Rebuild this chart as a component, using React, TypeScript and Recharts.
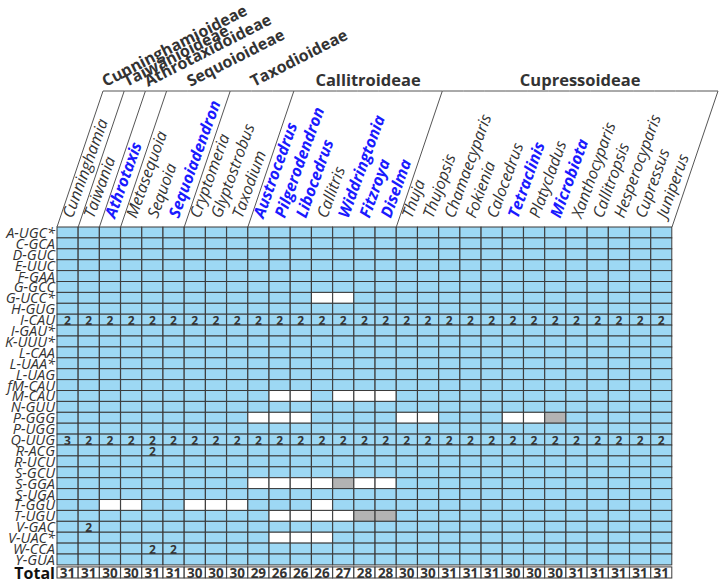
import React from 'react';
import { BarChart, Bar, XAxis, YAxis } from 'recharts';

// genera, left to right
const genera = [
  'Cunninghamia', 'Taiwania', 'Athrotaxis', 'Metasequoia', 'Sequoia', 'Sequoiadendron',
  'Cryptomeria', 'Glyptostrobus', 'Taxodium', 'Austrocedrus', 'Pilgerodendron', 'Libocedrus',
  'Callitris', 'Widdringtonia', 'Fitzroya', 'Diselma', 'Thuja', 'Thujopsis', 'Chamaecyparis',
  'Fokienia', 'Calocedrus', 'Tetraclinis', 'Platycladus', 'Microbiota', 'Xanthocyparis',
  'Callitropsis', 'Hesperocyparis', 'Cupressus', 'Juniperus',
];

// genera printed in bold blue
const highlighted = [
  'Athrotaxis', 'Sequoiadendron', 'Austrocedrus', 'Pilgerodendron', 'Libocedrus',
  'Widdringtonia', 'Fitzroya', 'Diselma', 'Tetraclinis', 'Microbiota',
];

const subfamilyNames = [
  'Cunninghamioideae', 'Taiwanioideae', 'Athrotaxidoideae', 'Sequoioideae',
  'Taxodioideae', 'Callitroideae', 'Cupressoideae',
];
const subfamilySizes = [1, 1, 1, 3, 3, 7, 13];

const trnas = [
  'A-UGC*', 'C-GCA', 'D-GUC', 'E-UUC', 'F-GAA', 'G-GCC', 'G-UCC*', 'H-GUG', 'I-CAU', 'I-GAU*',
  'K-UUU*', 'L-CAA', 'L-UAA*', 'L-UAG', 'fM-CAU', 'M-CAU', 'N-GUU', 'P-GGG', 'P-UGG', 'Q-UUG',
  'R-ACG', 'R-UCU', 'S-GCU', 'S-GGA', 'S-UGA', 'T-GGU', 'T-UGU', 'V-GAC', 'V-UAC*', 'W-CCA', 'Y-GUA',
];

const totals = [31, 31, 30, 30, 31, 31, 30, 30, 30, 29, 26, 26, 26, 27, 28, 28, 30, 30, 31, 31, 31, 30, 30, 30, 31, 31, 31, 31, 31];

// copy numbers of the two rows that are filled with numbers
const iCauCopies = [2, 2, 2, 2, 2, 2, 2, 2, 2, 2, 2, 2, 2, 2, 2, 2, 2, 2, 2, 2, 2, 2, 2, 2, 2, 2, 2, 2, 2];
const qUugCopies = [3, 2, 2, 2, 2, 2, 2, 2, 2, 2, 2, 2, 2, 2, 2, 2, 2, 2, 2, 2, 2, 2, 2, 2, 2, 2, 2, 2, 2];

// other duplicated genes: [tRNA, genus, copies]
const extraCopies: [string, string, number][] = [
  ['R-ACG', 'Sequoia', 2],
  ['V-GAC', 'Taiwania', 2],
  ['W-CCA', 'Sequoia', 2],
  ['W-CCA', 'Sequoiadendron', 2],
];

// lost genes (white cells)
const absentCells: [string, string][] = [
  ['G-UCC*', 'Callitris'], ['G-UCC*', 'Widdringtonia'],
  ['M-CAU', 'Pilgerodendron'], ['M-CAU', 'Libocedrus'], ['M-CAU', 'Widdringtonia'],
  ['M-CAU', 'Fitzroya'], ['M-CAU', 'Diselma'],
  ['P-GGG', 'Austrocedrus'], ['P-GGG', 'Pilgerodendron'], ['P-GGG', 'Libocedrus'],
  ['P-GGG', 'Thuja'], ['P-GGG', 'Thujopsis'], ['P-GGG', 'Tetraclinis'], ['P-GGG', 'Platycladus'],
  ['S-GGA', 'Austrocedrus'], ['S-GGA', 'Pilgerodendron'], ['S-GGA', 'Libocedrus'],
  ['S-GGA', 'Callitris'], ['S-GGA', 'Fitzroya'], ['S-GGA', 'Diselma'],
  ['T-GGU', 'Athrotaxis'], ['T-GGU', 'Metasequoia'], ['T-GGU', 'Cryptomeria'],
  ['T-GGU', 'Glyptostrobus'], ['T-GGU', 'Taxodium'], ['T-GGU', 'Callitris'],
  ['T-UGU', 'Pilgerodendron'], ['T-UGU', 'Libocedrus'], ['T-UGU', 'Callitris'], ['T-UGU', 'Widdringtonia'],
  ['V-UAC*', 'Pilgerodendron'], ['V-UAC*', 'Libocedrus'], ['V-UAC*', 'Callitris'],
];

// pseudogenes (gray cells)
const pseudoCells: [string, string][] = [
  ['P-GGG', 'Microbiota'],
  ['S-GGA', 'Widdringtonia'],
  ['T-UGU', 'Fitzroya'],
  ['T-UGU', 'Diselma'],
];

const CHART_W = 720;
const CHART_H = 583;
const X_AXIS_H = 20;
const MARGIN = { top: 227 - X_AXIS_H, right: 48, bottom: 5, left: 0 };
const Y_AXIS_W = 57;
const BAND = (CHART_W - MARGIN.right - Y_AXIS_W) / genera.length;
const HEADER_H = 136;
const SLANT = 46;
const TOTAL_SPAN = 1.2;

const FONT = '"Open Sans", "Noto Sans", sans-serif';
const INK = '#333333';
const BLUE_FILL = '#9dd8f4';
const GRAY_FILL = '#b3b3b3';
const GRID = '#3a3a3a';
const LABEL_BLUE = '#1a1aff';

const key = (t: string, g: string) => `${t}|${g}`;
const absentSet = new Set(absentCells.map(([t, g]) => key(t, g)));
const pseudoSet = new Set(pseudoCells.map(([t, g]) => key(t, g)));
const copyMap = new Map<string, number>();
genera.forEach((g, i) => {
  copyMap.set(key('I-CAU', g), iCauCopies[i]);
  copyMap.set(key('Q-UUG', g), qUugCopies[i]);
});
extraCopies.forEach(([t, g, n]) => copyMap.set(key(t, g), n));

const data = genera.map((g, i) => {
  const row: Record<string, number | string> = { genus: g, totalValue: totals[i], total: TOTAL_SPAN };
  trnas.forEach((_, r) => {
    row[`r${r}`] = 1;
  });
  return row;
});

const groupStart: number[] = [];
subfamilySizes.reduce((acc, n) => {
  groupStart.push(acc);
  return acc + n;
}, 0);

const norm = (p: any) => {
  const x = p.width < 0 ? p.x + p.width : p.x;
  const y = p.height < 0 ? p.y + p.height : p.y;
  return { x, y, w: Math.abs(p.width), h: Math.abs(p.height) };
};

const makeCellShape = (trna: string) => (p: any) => {
  const { x, y, w, h } = norm(p);
  const g = p.payload.genus as string;
  const k = key(trna, g);
  const fill = pseudoSet.has(k) ? GRAY_FILL : absentSet.has(k) ? '#ffffff' : BLUE_FILL;
  const n = copyMap.get(k);
  return (
    <g>
      <rect x={x} y={y} width={w} height={h} fill={fill} stroke={GRID} strokeWidth={1} />
      {n ? (
        <text x={x + w / 2} y={y + h / 2 + 1} textAnchor="middle" dominantBaseline="central"
          fontFamily={FONT} fontWeight={700} fontSize={12} fill={INK}>
          {n}
        </text>
      ) : null}
    </g>
  );
};

const TotalShape = (p: any) => {
  const { x, y, w, h } = norm(p);
  return (
    <g>
      <rect x={x} y={y + 2} width={w} height={h - 2} fill="#ffffff" stroke={GRID} strokeWidth={1} />
      <text x={x + w / 2} y={y + h / 2 + 2} textAnchor="middle" dominantBaseline="central"
        fontFamily={FONT} fontWeight={700} fontSize={13.5} fill={INK}>
        {p.payload.totalValue}
      </text>
    </g>
  );
};

const GenusTick = (props: any) => {
  const { x, y, payload } = props;
  const name = payload.value as string;
  const i = genera.indexOf(name);
  const left = x - BAND / 2;
  const topY = y - HEADER_H;
  const hi = highlighted.includes(name);
  const gi = groupStart.indexOf(i);
  const parts: React.ReactNode[] = [];

  parts.push(
    <line key="top" x1={left + SLANT} y1={topY} x2={left + BAND + SLANT} y2={topY} stroke="#555" strokeWidth={1} />
  );
  if (gi >= 0) {
    parts.push(<line key="l" x1={left} y1={y} x2={left + SLANT} y2={topY} stroke="#555" strokeWidth={1} />);
    const size = subfamilySizes[gi];
    const cx = left + (BAND * size) / 2 + SLANT;
    if (size <= 3) {
      const gx = cx - 8;
      const gy = topY - 4;
      parts.push(
        <text key="g" x={gx} y={gy} transform={`rotate(-27 ${gx} ${gy})`}
          fontFamily={FONT} fontWeight={700} fontSize={16} fill={INK}>
          {subfamilyNames[gi]}
        </text>
      );
    } else {
      parts.push(
        <text key="g" x={cx} y={topY - 5} textAnchor="middle"
          fontFamily={FONT} fontWeight={700} fontSize={16.5} fill={INK}>
          {subfamilyNames[gi]}
        </text>
      );
    }
  }
  if (i === genera.length - 1) {
    parts.push(
      <line key="r" x1={left + BAND} y1={y} x2={left + BAND + SLANT} y2={topY} stroke="#555" strokeWidth={1} />
    );
  }
  const tx = x + 5;
  const ty = y - 8;
  parts.push(
    <text key="n" x={tx} y={ty} transform={`rotate(-70 ${tx} ${ty})`} fontFamily={FONT}
      fontStyle="italic" fontWeight={hi ? 700 : 400} fontSize={16} fill={hi ? LABEL_BLUE : INK}>
      {name}
    </text>
  );
  return <g>{parts}</g>;
};

const RowTick = (props: any) => {
  const { x, y, payload } = props;
  const idx = Math.floor(payload.value);
  if (idx >= trnas.length) {
    return (
      <text x={x} y={y + 2} textAnchor="end" dominantBaseline="central" fontFamily={FONT}
        fontWeight={700} fontSize={16} fill="#111">
        Total
      </text>
    );
  }
  return (
    <text x={x} y={y} textAnchor="end" dominantBaseline="central" fontFamily={FONT}
      fontStyle="italic" fontSize={14.5} fill={INK}>
      {trnas[idx]}
    </text>
  );
};

const rowTicks = [...trnas.map((_, r) => r + 0.5), trnas.length + TOTAL_SPAN / 2];

export default function App() {
  return (
    <div style={{ position: 'absolute', left: 0, top: 0, width: CHART_W, height: CHART_H, background: '#fff' }}>
      <BarChart width={CHART_W} height={CHART_H} data={data} margin={MARGIN}
        barCategoryGap={0} barGap={0}>
        <XAxis dataKey="genus" type="category" orientation="top" height={X_AXIS_H} interval={0}
          axisLine={false} tickLine={false} tickSize={0} tickMargin={0} tick={<GenusTick />} />
        <YAxis type="number" width={Y_AXIS_W} reversed domain={[0, trnas.length + TOTAL_SPAN]}
          ticks={rowTicks} interval={0} axisLine={false} tickLine={false} tickSize={0} tickMargin={2}
          tick={<RowTick />} />
        {trnas.map((t, r) => (
          <Bar key={t} dataKey={`r${r}`} stackId="s" isAnimationActive={false} shape={makeCellShape(t)} />
        ))}
        <Bar dataKey="total" stackId="s" isAnimationActive={false} shape={TotalShape} />
      </BarChart>
    </div>
  );
}
